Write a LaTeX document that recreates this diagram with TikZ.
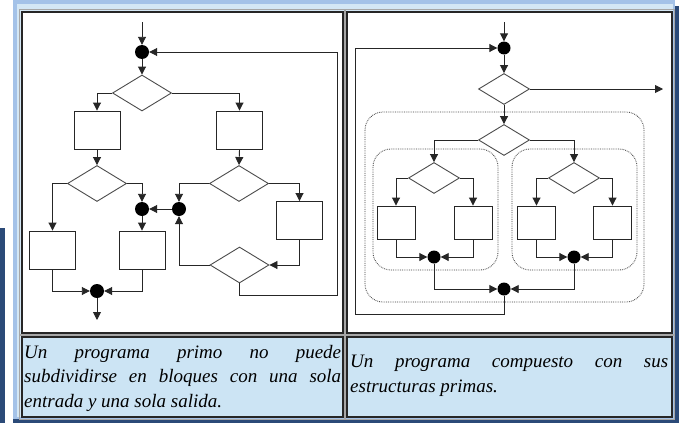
\documentclass[tikz,border=0pt]{standalone}
\usepackage{fontspec}
\setmainfont{Liberation Serif}
\usepackage{tikz}
\usetikzlibrary{
    arrows.meta,
    shapes.geometric,
    positioning
}
\definecolor{tblblue}{HTML}{A4C2E8}
\definecolor{tblpale}{HTML}{D4E7F5}
\definecolor{capblue}{HTML}{CCE4F4}
\definecolor{navyedge}{HTML}{2B4A78}
\tikzset{
    blk/.style={draw=black!85, line width=0.9pt, minimum width=46pt, minimum height=38pt, inner sep=0pt},
    smallblk/.style={blk, minimum width=38pt, minimum height=33pt},
    cond/.style={diamond, draw=black!70, line width=0.9pt, minimum width=59pt, minimum height=36pt, inner sep=0pt},
    smallcond/.style={cond, minimum width=51pt, minimum height=31pt},
    joint/.style={circle, fill=black, minimum size=14pt, inner sep=0pt},
    smalljoint/.style={joint, minimum size=13pt},
    flow/.style={->, line width=0.9pt, draw=black!85},
    grp/.style={draw=black!75, densely dotted, line width=0.8pt, rounded corners=18pt},
    cell/.style={draw=black!85, line width=1.3pt},
    halo/.style={draw=black!35, line width=0.8pt},
    captxt/.style={text width=#1, align=justify, inner sep=0pt, anchor=north west,
        font=\fontsize{19}{24.5}\selectfont\itshape}
}

\begin{document}
\begin{tikzpicture}[x=1pt, y=-1pt, >={Triangle[length=8pt, width=8pt]}]
    \useasboundingbox (0,0) rectangle (679,423);
    \fill[white] (0,0) rectangle (679,423);
    \fill[tblblue] (13,0) rectangle (675,420);
    \fill[tblpale] (17,4) rectangle (673,417);
    \fill[navyedge] (0,228) rectangle (5,423);
    \fill[navyedge] (675,6) rectangle (679,423);
    \fill[navyedge] (13,419) rectangle (679,423);

    \draw[halo] (19.5,9.5) rectangle (345.5,335.5);
    \draw[halo] (344.5,9.5) rectangle (674.5,335.5);
    \draw[halo] (19.5,334.5) rectangle (345.5,419);
    \draw[halo] (344.5,334.5) rectangle (674.5,419);
    \draw[cell, fill=white] (22,12) rectangle (343,333);
    \draw[cell, fill=white] (347,12) rectangle (672,333);
    \draw[cell, fill=capblue] (22,337) rectangle (343,417);
    \draw[cell, fill=capblue] (347,337) rectangle (672,417);

    % primo
    \node[joint] (j1) at (142,52) {};
    \node[cond] (d1) at (142,93) {};
    \node[blk] (b1) at (97,130) {};
    \node[blk] (b2) at (239.5,130) {};
    \node[cond] (d2) at (97,183.5) {};
    \node[cond] (d3) at (239,183.5) {};
    \node[joint] (j2) at (142,209) {};
    \node[joint] (j3) at (179,209) {};
    \node[blk] (b3) at (52.5,250) {};
    \node[blk] (b5) at (142,250) {};
    \node[blk] (b4) at (299.5,220.5) {};
    \node[cond] (d4) at (239.5,265) {};
    \node[joint] (j4) at (97,291) {};
    \coordinate (in1) at (142,22);
    \coordinate (out1) at (97,320);
    \coordinate (back1) at (337,295);

    \draw[flow] (in1) -- (j1);
    \draw[flow] (j1) -- (d1.north);
    \draw[flow] (d1.west) -| (b1.north);
    \draw[flow] (d1.east) -| (b2.north);
    \draw[flow] (b1) -- (d2.north);
    \draw[flow] (b2.south) -- (d3.north);
    \draw[flow] (d2.west) -| (b3.north);
    \draw[flow] (d2.east) -| (j2.north);
    \draw[flow] (j3) -- (j2);
    \draw[flow] (j2) -- (b5.north);
    \draw[flow] (d3.west) -| (j3.north);
    \draw[flow] (d3.east) -| (b4.north);
    \draw[flow] (b4.south) |- (d4.east);
    \draw[flow] (d4.west) -| (j3.south);
    \draw[flow] (d4.south) |- (back1) |- (j1.east);
    \draw[flow] (b3.south) |- (j4.west);
    \draw[flow] (b5.south) |- (j4.east);
    \draw[flow] (j4) -- (out1);

    % compuesto
    \draw[grp] (365,112) rectangle (644,302);
    \draw[grp] (373,149) rectangle (498,270);
    \draw[grp] (512,149) rectangle (637,270);

    \node[smalljoint] (j5) at (504,48) {};
    \node[smallcond] (d5) at (504,89) {};
    \node[smallcond] (d6) at (504,140) {};
    \node[smallcond] (d7) at (434,178) {};
    \node[smallcond] (d8) at (574,178) {};
    \node[smallblk] (b6) at (396,222.5) {};
    \node[smallblk] (b7) at (473,222.5) {};
    \node[smallblk] (b8) at (536.5,222.5) {};
    \node[smallblk] (b9) at (612.5,222.5) {};
    \node[smalljoint] (j6) at (434,257) {};
    \node[smalljoint] (j7) at (574,257) {};
    \node[smalljoint] (j8) at (504,289) {};
    \coordinate (in2) at (504,22);
    \coordinate (out2) at (663,89);
    \coordinate (back2) at (355,314);

    \draw[flow] (in2) -- (j5);
    \draw[flow] (j5) -- (d5.north);
    \draw[flow] (d5.east) -- (out2);
    \draw[flow] (d5.south) -- (d6.north);
    \draw[flow] (d6.west) -| (d7.north);
    \draw[flow] (d6.east) -| (d8.north);
    \draw[flow] (d7.west) -| (b6.north);
    \draw[flow] (d7.east) -| (b7.north);
    \draw[flow] (d8.west) -| (b8.north);
    \draw[flow] (d8.east) -| (b9.north);
    \draw[flow] (b6.south) |- (j6.west);
    \draw[flow] (b7.south) |- (j6.east);
    \draw[flow] (b8.south) |- (j7.west);
    \draw[flow] (b9.south) |- (j7.east);
    \draw[flow] (j6.south) |- (j8.west);
    \draw[flow] (j7.south) |- (j8.east);
    \draw[flow] (j8.south) |- (back2) |- (j5.west);

    \node[captxt=317pt] (cap1) at (24,345) {Un programa primo no puede\linebreak subdividirse en bloques con una sola\linebreak entrada y una sola salida.};
    \node[captxt=318pt] (cap2) at (350,355) {Un programa compuesto con sus\linebreak estructuras primas.};
\end{tikzpicture}
\end{document}
